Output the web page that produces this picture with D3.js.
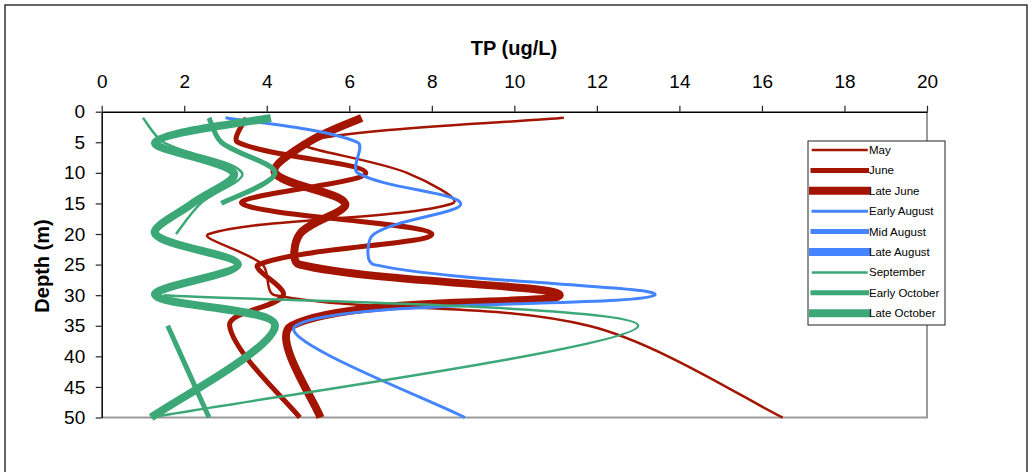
<!DOCTYPE html>
<html>
<head>
<meta charset="utf-8">
<script src="https://cdn.jsdelivr.net/npm/d3@7"></script>
<style>
  html, body { margin: 0; padding: 0; background: #fff; }
  svg { display: block; }
  text { font-family: "Liberation Sans", Arial, sans-serif; fill: #000; }
</style>
</head>
<body>
<svg id="chart" width="1032" height="472"></svg>
<script>
// ---------------- data ----------------
const depths       = [1, 5, 10, 15, 20, 25, 30, 35, 50];
const may          = [11.2, 4.9, 7.4, 8.5, 2.6, 3.9, 4.2, 11.8, 16.5];
const june         = [3.5, 3.3, 6.4, 3.4, 8.0, 3.8, 4.4, 3.1, 4.8];
const lateJune     = [6.3, 5.0, 4.2, 5.9, 4.8, 4.8, 11.1, 4.6, 5.3];
const earlyAugust  = [3.0, 6.2, 6.2, 8.7, 6.6, 6.6, 13.4, 4.7, 8.8];
const midAugust    = [null, null, null, null, null, null, null, null, null];
const lateAugust   = [null, null, null, null, null, null, null, null, null];
const september    = [1.0, 1.5, 3.4, 2.4, 1.8, null, 1.5, 13.0, 1.2];
const earlyOctober = [2.6, 2.9, 4.2, 2.9, null, null, null, 1.6, 2.6];
const lateOctober  = [4.1, 1.3, 3.2, 2.2, 1.3, 3.3, 1.3, 4.2, 1.2];

const seriesNames  = ["May", "June", "Late June", "Early August", "Mid August",
                      "Late August", "September", "Early October", "Late October"];
const seriesValues = [may, june, lateJune, earlyAugust, midAugust,
                      lateAugust, september, earlyOctober, lateOctober];
const xTicks = [0, 2, 4, 6, 8, 10, 12, 14, 16, 18, 20];
const yTicks = [0, 5, 10, 15, 20, 25, 30, 35, 40, 45, 50];
const xTitle = "TP (ug/L)";
const yTitle = "Depth (m)";

// ---------------- styles ----------------
const RED = "#A31500", BLUE = "#4485FF", GREEN = "#3DA877";
const seriesColor = [RED, RED, RED, BLUE, BLUE, BLUE, GREEN, GREEN, GREEN];
const seriesWidth = [2.5, 5, 8, 3, 5, 8, 2.5, 5, 8];

// ---------------- layout ----------------
const svg = d3.select("#chart");
const X0 = 101.7, X1 = 927, Y0 = 111.7, Y1 = 417.5;

svg.append("rect").attr("x", 0).attr("y", 0).attr("width", 1032).attr("height", 472).attr("fill", "#fff");
svg.append("rect").attr("x", 5).attr("y", 5).attr("width", 1022).attr("height", 480)
  .attr("fill", "none").attr("stroke", "#333").attr("stroke-width", 1.5);

const x = d3.scaleLinear().domain([0, 20]).range([X0, X1]);
const y = d3.scaleLinear().domain([0, 50]).range([Y0, Y1]);

// plot border (right & bottom, grey)
svg.append("line").attr("x1", X1).attr("x2", X1).attr("y1", Y0).attr("y2", Y1)
  .attr("stroke", "#9a9a9a").attr("stroke-width", 2);
svg.append("line").attr("x1", X0).attr("x2", X1 + 1).attr("y1", Y1).attr("y2", Y1)
  .attr("stroke", "#9a9a9a").attr("stroke-width", 2);

// axes
const gx = svg.append("g").attr("transform", `translate(0,${Y0})`)
  .call(d3.axisTop(x).tickValues(xTicks).tickSize(6).tickSizeOuter(0).tickPadding(17.5)
    .tickFormat(d3.format("d")));
const gy = svg.append("g").attr("transform", `translate(${X0},0)`)
  .call(d3.axisLeft(y).tickValues(yTicks).tickSize(6).tickSizeOuter(0).tickPadding(10.5)
    .tickFormat(d3.format("d")));
[gx, gy].forEach(g => {
  g.select(".domain").attr("stroke", "#000").attr("stroke-width", 1.5);
  g.selectAll(".tick line").attr("stroke", "#222").attr("stroke-width", 1.2);
  g.selectAll(".tick text").attr("font-size", 19).attr("fill", "#000")
    .attr("font-family", "Liberation Sans, Arial, sans-serif");
});

// titles
svg.append("text").attr("x", 514).attr("y", 55).attr("text-anchor", "middle")
  .attr("font-size", 20).attr("font-weight", "bold").text(xTitle);
svg.append("text").attr("transform", "translate(49,266) rotate(-90)").attr("text-anchor", "middle")
  .attr("font-size", 20).attr("font-weight", "bold").text(yTitle);

// Excel-like smoothing curve: Bezier with tangent arms scaled by chord lengths
function ExcelSmooth(context) { this._context = context; }
ExcelSmooth.prototype = {
  areaStart() {}, areaEnd() {},
  lineStart() { this._pts = []; },
  point(px, py) { this._pts.push([+px, +py]); },
  lineEnd() {
    const p = this._pts, n = p.length, c = this._context;
    if (!n) return;
    const dist = (a, b) => Math.hypot(b[0] - a[0], b[1] - a[1]);
    c.moveTo(p[0][0], p[0][1]);
    for (let i = 0; i < n - 1; i++) {
      const p1 = p[i], p2 = p[i + 1];
      const d12 = dist(p1, p2);
      let c1, c2;
      if (i === 0) {
        c1 = [p1[0] + (p2[0] - p1[0]) / 6, p1[1] + (p2[1] - p1[1]) / 6];
      } else {
        const p0 = p[i - 1], d01 = dist(p0, p1), f = d12 / (d01 + d12) / 3;
        c1 = [p1[0] + (p2[0] - p0[0]) * f, p1[1] + (p2[1] - p0[1]) * f];
      }
      if (i === n - 2) {
        c2 = [p2[0] - (p2[0] - p1[0]) / 6, p2[1] - (p2[1] - p1[1]) / 6];
      } else {
        const p3 = p[i + 2], d23 = dist(p2, p3), f = d12 / (d12 + d23) / 3;
        c2 = [p2[0] - (p3[0] - p1[0]) * f, p2[1] - (p3[1] - p1[1]) * f];
      }
      c.bezierCurveTo(c1[0], c1[1], c2[0], c2[1], p2[0], p2[1]);
    }
  }
};
const excelSmooth = ctx => new ExcelSmooth(ctx);

const line = d3.line()
  .defined(d => d.v !== null)
  .x(d => x(d.v))
  .y(d => y(d.d))
  .curve(excelSmooth);

const series = seriesNames.map((name, i) => ({
  name, color: seriesColor[i], width: seriesWidth[i],
  points: seriesValues[i].map((v, j) => ({ v, d: depths[j] }))
}));

svg.append("g").selectAll("path").data(series).join("path")
  .attr("d", s => line(s.points))
  .attr("fill", "none")
  .attr("stroke", s => s.color)
  .attr("stroke-width", s => s.width)
  .attr("stroke-linejoin", "round");

// legend
const LX = 808, LY = 141, LW = 137, LH = 184;
const lg = svg.append("g");
lg.append("rect").attr("x", LX).attr("y", LY).attr("width", LW).attr("height", LH)
  .attr("fill", "#fff").attr("stroke", "#222").attr("stroke-width", 1);
const rows = lg.selectAll("g.row").data(series).join("g").attr("class", "row")
  .attr("transform", (s, i) => `translate(0,${150 + i * 20.4})`);
rows.append("line").attr("x1", 813).attr("x2", 866.5).attr("y1", 0).attr("y2", 0)
  .attr("stroke", s => s.color).attr("stroke-width", s => s.width).attr("stroke-linecap", "square");
rows.append("text").attr("x", 869).attr("y", 0).attr("dy", "0.35em")
  .attr("font-size", 11.5).text(s => s.name);
</script>
</body>
</html>
